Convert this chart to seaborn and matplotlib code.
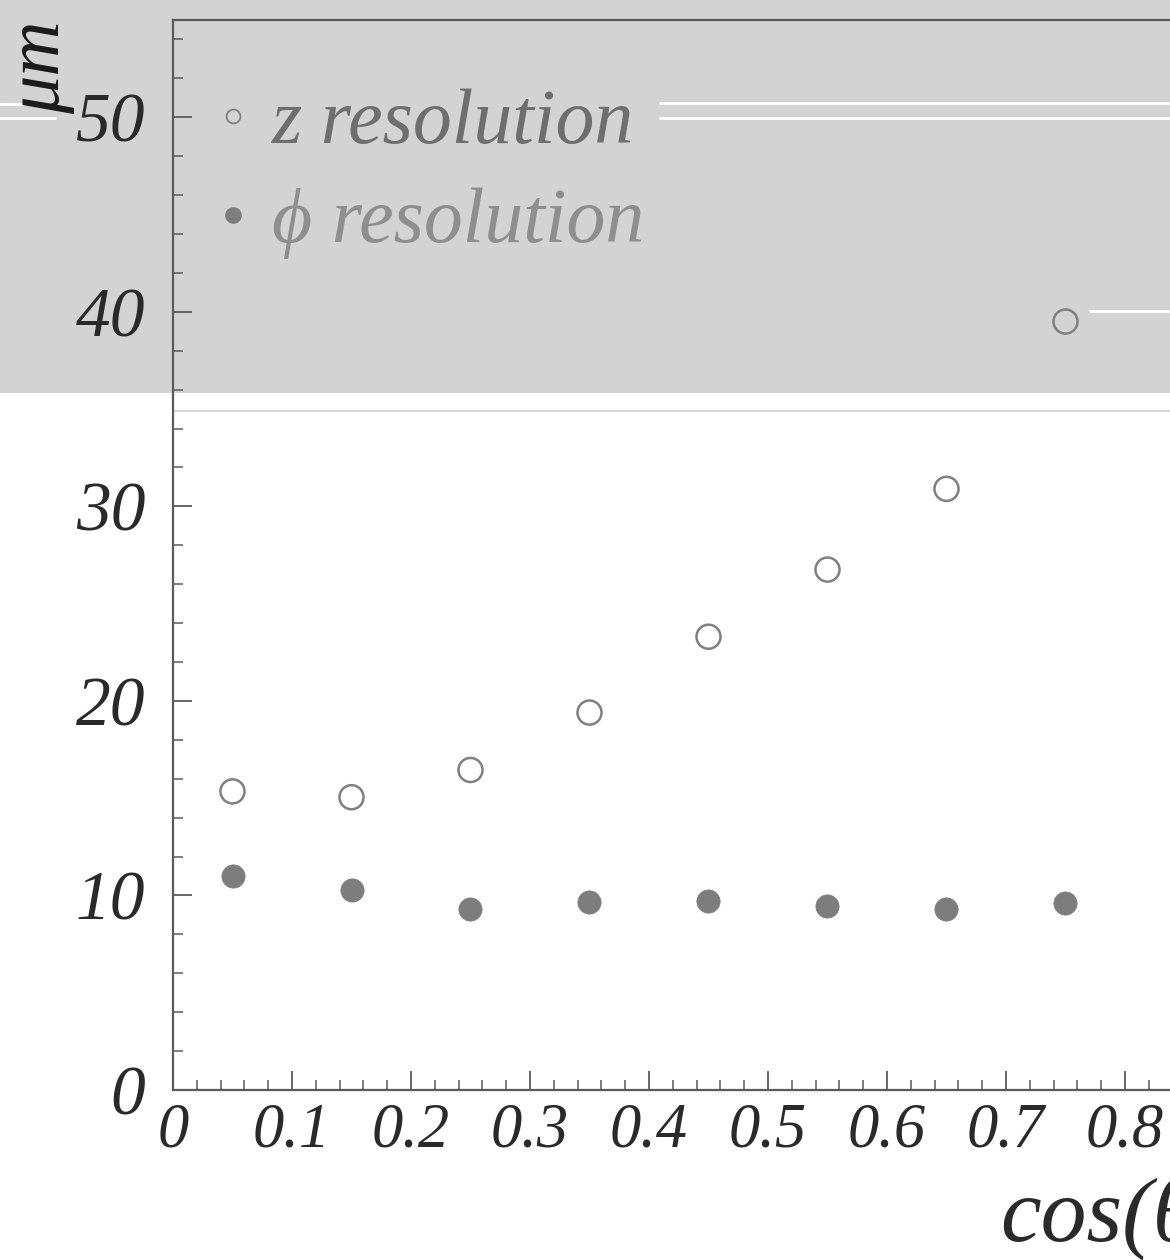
import matplotlib
matplotlib.use("Agg")
import matplotlib.pyplot as plt
import seaborn as sns
import pandas as pd
from matplotlib.ticker import MultipleLocator
from matplotlib.lines import Line2D
from matplotlib.patches import Rectangle

cos_theta = [0.05, 0.15, 0.25, 0.35, 0.45, 0.55, 0.65, 0.75]
z_res = [15.35, 15.05, 16.45, 19.4, 23.3, 26.75, 30.9, 39.5]
phi_res = [11.0, 10.27, 9.3, 9.65, 9.72, 9.45, 9.3, 9.6]
x_ticks = [0, 0.1, 0.2, 0.3, 0.4, 0.5, 0.6, 0.7, 0.8, 0.9, 1.0]
x_tick_labels = ["0", "0.1", "0.2", "0.3", "0.4", "0.5", "0.6", "0.7", "0.8", "0.9", "1"]
y_ticks = [0, 10, 20, 30, 40, 50]
y_tick_labels = ["0", "10", "20", "30", "40", "50"]

df = pd.DataFrame({"cos": cos_theta, "z": z_res, "phi": phi_res})

sns.set_theme(style="ticks")
plt.rcParams["font.family"] = ["Liberation Serif", "DejaVu Serif"]

W, H = 1170, 1260
fig = plt.figure(figsize=(W / 100, H / 100), dpi=100, facecolor="white")

# grey scan band at top
fig.patches.append(Rectangle((0, (H - 393) / H), 1, 393 / H, transform=fig.transFigure,
                             facecolor="#d3d3d3", edgecolor="none", zorder=0))
def fline(x0, x1, ypx, color, lw):
    fig.lines.append(Line2D([x0 / W, x1 / W], [(H - ypx) / H, (H - ypx) / H],
                            transform=fig.transFigure, color=color, lw=lw, zorder=0.5))
fline(660, 1170, 103, "white", 2)
fline(660, 1170, 118, "white", 2)
fline(0, 55, 104, "white", 2)
fline(0, 55, 118, "white", 2)
fline(1090, 1170, 311, "white", 2)
fline(173, 1170, 411, "#d6d6d6", 1.5)

ax = fig.add_axes([173 / W, (H - 1090) / H, 1190 / W, 1070 / H])
ax.set_facecolor("none")
ax.set_zorder(1)

sns.scatterplot(data=df, x="cos", y="z", ax=ax, s=300, facecolors="none",
                edgecolor="#808080", linewidth=1.8, marker="o", legend=False, zorder=3)
sns.scatterplot(data=df, x="cos", y="phi", ax=ax, s=280, color="#7d7d7d",
                edgecolor="#7d7d7d", linewidth=0.5, marker="o", legend=False, zorder=3)

ax.set_xlim(0, 1.0)
ax.set_ylim(0, 55)
ax.set_xticks(x_ticks)
ax.set_xticklabels(x_tick_labels)
ax.set_yticks(y_ticks)
ax.set_yticklabels(y_tick_labels)
ax.xaxis.set_minor_locator(MultipleLocator(0.02))
ax.yaxis.set_minor_locator(MultipleLocator(2))

for sp in ["left", "bottom", "top", "right"]:
    ax.spines[sp].set_color("#5a5a5a")
    ax.spines[sp].set_linewidth(1.6)
ax.tick_params(which="major", direction="in", length=14, width=1.3, color="#5a5a5a",
               labelcolor="#2a2a2a")
ax.tick_params(which="minor", direction="in", length=7, width=1.1, color="#5a5a5a")
ax.tick_params(axis="x", which="major", pad=9, labelsize=45)
ax.tick_params(axis="y", which="major", pad=20, labelsize=50)
for t in ax.get_xticklabels() + ax.get_yticklabels():
    t.set_fontstyle("italic")

ax.set_xlabel("cos(θ)", fontsize=66, fontstyle="italic", color="#2a2a2a", ha="left")
ax.xaxis.set_label_coords(0.695, -0.081)
ax.set_ylabel("μm", fontsize=55, fontstyle="italic", color="#1a1a1a")
ax.yaxis.set_label_coords(-0.082, 0.956)

handles = [
    Line2D([], [], marker="o", ls="none", markersize=10, markerfacecolor="none",
           markeredgecolor="#808080", markeredgewidth=1.3),
    Line2D([], [], marker="o", ls="none", markersize=11, markerfacecolor="#7d7d7d",
           markeredgecolor="#7d7d7d"),
]
leg = ax.legend(handles, ["z resolution", "ϕ resolution"], loc="upper left",
                bbox_to_anchor=(0.031, 0.936), frameon=False, borderpad=0, borderaxespad=0,
                handlelength=0.6, handletextpad=0.2, labelspacing=0.36,
                prop={"family": ["Liberation Serif", "DejaVu Serif"], "style": "italic", "size": 56})
leg.get_texts()[0].set_color("#6e6e6e")
leg.get_texts()[1].set_color("#8e8e8e")

fig.savefig("out.png", dpi=100, facecolor="white")
